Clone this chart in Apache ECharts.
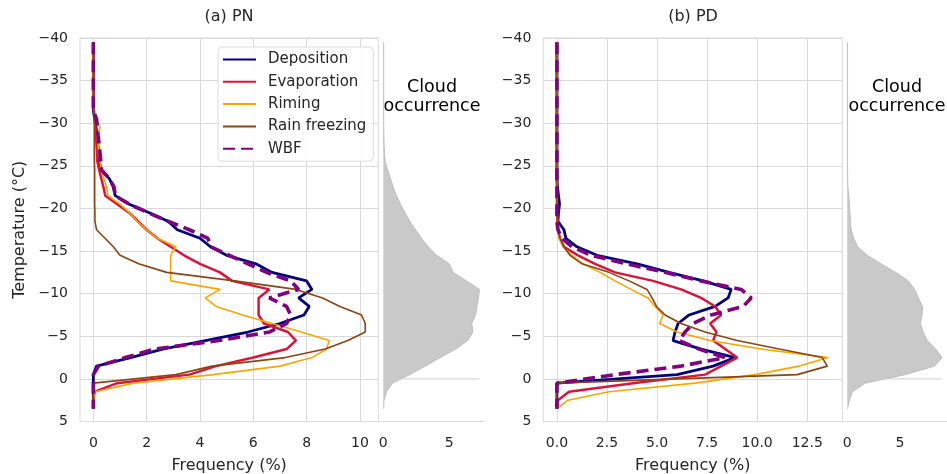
<!DOCTYPE html>
<html>
<head>
<meta charset="utf-8" />
<script src="https://cdn.jsdelivr.net/npm/echarts@6.0.0/dist/echarts.min.js"></script>
<style>
  html, body { margin: 0; padding: 0; background: #fff; }
  #chart { width: 947px; height: 474px; }
</style>
</head>
<body>
<div id="chart"></div>
<script>
// temperature bin centres (°C) shared by every profile
const temps = [-39.5, -38.5, -37.5, -36.5, -35.5, -34.5, -33.5, -32.5, -31.5, -30.5,
  -29.5, -28.5, -27.5, -26.5, -25.5, -24.5, -23.5, -22.5, -21.5, -20.5,
  -19.5, -18.5, -17.5, -16.5, -15.5, -14.5, -13.5, -12.5, -11.5, -10.5,
  -9.5, -8.5, -7.5, -6.5, -5.5, -4.5, -3.5, -2.5, -1.5, -0.5,
  0.5, 1.5, 2.5, 3.5];

// (a) PN, frequency in %
const pnDep = [0, 0, 0, 0, 0, 0, 0, 0, 0, 0.05,
  0.1, 0.15, 0.17, 0.2, 0.22, 0.3, 0.6, 0.75, 0.82, 1.35,
  2.1, 2.8, 3.15, 4.0, 4.4, 5.0, 6.1, 6.7, 8.0, 8.2,
  7.7, 8.1, 7.9, 7.0, 5.8, 4.2, 2.6, 1.4, 0.12, 0,
  0, 0, 0, 0];
const pnEvap = [0, 0, 0, 0, 0, 0, 0, 0, 0.02, 0.05,
  0.08, 0.1, 0.12, 0.14, 0.15, 0.22, 0.3, 0.38, 0.45, 0.9,
  1.34, 1.67, 2.0, 2.4, 2.9, 3.4, 4.0, 4.75, 5.2, 6.6,
  6.2, 6.2, 6.2, 6.4, 7.3, 7.6, 7.25, 6.0, 4.6, 3.6,
  0.9, 0.05, 0, 0];
const pnRime = [0, 0, 0, 0, 0, 0, 0, 0, 0.05, 0.1,
  0.25, 0.15, 0.18, 0.2, 0.25, 0.3, 0.4, 0.5, 0.55, 1.0,
  1.35, 1.65, 2.0, 2.4, 3.1, 2.9, 2.9, 2.9, 2.9, 4.75,
  4.2, 4.6, 5.6, 6.7, 7.8, 8.85, 8.75, 8.2, 7.0, 4.5,
  1.5, 0.06, 0, 0];
const pnRain = [0, 0, 0, 0, 0, 0, 0, 0, 0.03, 0.04,
  0.04, 0.04, 0.04, 0.04, 0.04, 0.05, 0.05, 0.05, 0.05, 0.05,
  0.06, 0.06, 0.12, 0.44, 0.75, 1.0, 1.7, 2.75, 5.3, 7.6,
  8.6, 9.25, 10.06, 10.2, 10.2, 9.55, 8.7, 7.2, 4.45, 3.1,
  0, 0, 0, 0];
const pnWbf = [0, 0, 0, 0, 0, 0, 0, 0, 0, 0.12,
  0.15, 0.18, 0.22, 0.25, 0.28, 0.31, 0.6, 0.78, 0.82, 1.35,
  2.05, 2.8, 3.6, 4.3, 4.4, 5.1, 5.8, 6.5, 7.4, 7.7,
  6.6, 7.25, 7.4, 7.25, 6.6, 4.7, 2.3, 1.2, 0.2, 0,
  0, 0, 0, 0];

// (b) PD, frequency in %
const pdDep = [0, 0, 0, 0, 0, 0, 0, 0, 0, 0,
  0, 0, 0, 0, 0, 0, 0, 0.03, 0.08, 0.13,
  0.08, 0.05, 0.35, 0.45, 1.0, 2.0, 4.0, 5.6, 7.3, 8.7,
  8.55, 7.9, 6.6, 6.05, 5.9, 5.8, 7.2, 8.9, 7.8, 6.0,
  0, 0, 0, 0];
const pdEvap = [0, 0, 0, 0, 0, 0, 0, 0, 0, 0,
  0, 0, 0, 0, 0, 0, 0, 0, 0, 0,
  0, 0.03, 0.06, 0.15, 0.35, 1.05, 1.9, 2.9, 4.8, 6.2,
  7.2, 7.9, 8.2, 7.65, 7.97, 7.8, 8.4, 9.0, 8.2, 7.4,
  3.8, 0.6, 0.05, 0];
const pdRime = [0, 0, 0, 0, 0, 0, 0, 0, 0, 0,
  0, 0, 0, 0, 0, 0, 0, 0, 0, 0,
  0, 0, 0.03, 0.1, 0.3, 0.75, 1.3, 2.15, 2.9, 3.7,
  4.55, 4.9, 5.3, 5.13, 6.0, 7.65, 10.2, 13.55, 12.1, 9.9,
  6.9, 2.6, 0.55, 0];
const pdRain = [0, 0, 0, 0, 0, 0, 0, 0, 0, 0,
  0, 0, 0, 0, 0, 0, 0, 0, 0, 0,
  0, 0, 0.05, 0.15, 0.35, 0.65, 1.25, 2.6, 3.6, 4.5,
  4.75, 4.97, 5.4, 6.2, 7.4, 9.0, 11.1, 13.25, 13.5, 12.0,
  0, 0, 0, 0];
const pdWbf = [0, 0, 0, 0, 0, 0, 0, 0, 0, 0,
  0, 0, 0, 0, 0, 0, 0, 0, 0, 0,
  0, 0, 0.05, 0.25, 0.75, 1.7, 3.5, 5.4, 7.2, 9.2,
  9.7, 9.3, 7.7, 6.8, 6.4, 6.1, 7.1, 8.4, 6.2, 2.9,
  0, 0, 0, 0];

// cloud occurrence profiles
const cloudPN = [0.03, 0.03, 0.03, 0.03, 0.03, 0.03, 0.03, 0.03, 0.03, 0.03,
  0.03, 0.04, 0.06, 0.08, 0.15, 0.33, 0.55, 0.75, 1.0, 1.3,
  1.65, 2.0, 2.45, 2.9, 3.4, 4.05, 5.0, 5.3, 6.3, 7.3,
  7.2, 7.1, 7.0, 6.7, 6.8, 6.4, 5.5, 4.3, 3.2, 2.0,
  0.7, 0.25, 0.05, 0.03];
const cloudPD = [0.03, 0.03, 0.03, 0.03, 0.03, 0.03, 0.03, 0.03, 0.03, 0.03,
  0.03, 0.03, 0.03, 0.03, 0.03, 0.03, 0.04, 0.06, 0.15, 0.2,
  0.25, 0.3, 0.38, 0.6, 1.0, 1.9, 3.2, 4.6, 5.8, 6.4,
  6.75, 7.15, 7.1, 6.95, 7.2, 7.6, 8.4, 9.0, 8.3, 5.5,
  1.7, 0.5, 0.2, 0.03];

const pnTicks = [0, 2, 4, 6, 8, 10];
const pdTicks = [0, 2.5, 5, 7.5, 10, 12.5];
const cloudTicks = [0, 5];

const names = ['Deposition', 'Evaporation', 'Riming', 'Rain freezing', 'WBF'];
const colors = ['#000080', '#dc143c', '#ffa500', '#8b4513', '#800080'];
const widths = [2.8, 2.5, 1.6, 1.6, 3.6];

const font = 'DejaVu Sans';
const ink = '#262626';
const lineGray = '#d9d9d9';
const fillGray = '#c9c9c9';

const chart = echarts.init(document.getElementById('chart'));

function profiles(data, xi, yi) {
  return names.map((n, k) => ({
    type: 'line',
    name: n,
    xAxisIndex: xi,
    yAxisIndex: yi,
    data: temps.map((t, i) => [data[k][i], t]),
    symbol: 'none',
    silent: true,
    z: 2 + k,
    lineStyle: { color: colors[k], width: widths[k], type: n === 'WBF' ? [12, 6] : 'solid' },
    itemStyle: { color: colors[k] }
  }));
}

function cloud(data, xi, yCat, yVal) {
  return [{
    type: 'line',
    xAxisIndex: xi,
    yAxisIndex: yCat,
    data: data,
    symbol: 'none',
    silent: true,
    lineStyle: { color: '#bfbfbf', width: 1 },
    areaStyle: { color: fillGray, opacity: 1 }
  }, {
    type: 'line',
    xAxisIndex: xi,
    yAxisIndex: yVal,
    data: [[0, 0], [Math.max(...data), 0]],
    symbol: 'none',
    silent: true,
    lineStyle: { color: '#cfcfcf', width: 1 }
  }];
}

const tickText = { color: ink, fontSize: 14, fontFamily: font };

function mainX(gi, min, max, ticks, fmt) {
  return {
    type: 'value', gridIndex: gi, min: min, max: max,
    axisLine: { show: false, onZero: false },
    axisTick: { show: false, customValues: ticks },
    axisLabel: Object.assign({ customValues: ticks, formatter: fmt, margin: 15 }, tickText),
    splitLine: { show: true, lineStyle: { color: lineGray, width: 1 } },
    name: 'Frequency (%)', nameLocation: 'middle', nameGap: 36,
    nameTextStyle: { color: ink, fontSize: 16, fontFamily: font }
  };
}

function cloudX(gi, min, max) {
  return {
    type: 'value', gridIndex: gi, min: min, max: max,
    axisLine: { show: true, onZero: false, lineStyle: { color: lineGray } },
    axisTick: { show: false, customValues: cloudTicks },
    axisLabel: Object.assign({ customValues: cloudTicks, margin: 15 }, tickText),
    splitLine: { show: false }
  };
}

function mainY(gi, withName) {
  const ax = {
    type: 'value', gridIndex: gi, min: -40, max: 5, interval: 5, inverse: true,
    axisLine: { show: false, onZero: false },
    axisTick: { show: false },
    axisLabel: Object.assign({ margin: 12, formatter: v => String(v).replace('-', '\u2212') }, tickText),
    splitLine: { show: true, lineStyle: { color: lineGray, width: 1 } }
  };
  if (withName) {
    ax.name = 'Temperature (°C)';
    ax.nameLocation = 'middle';
    ax.nameGap = 52;
    ax.nameTextStyle = { color: ink, fontSize: 16, fontFamily: font };
  }
  return ax;
}

function hiddenCatY(gi) {
  return { type: 'category', gridIndex: gi, data: temps.concat([4.5]), inverse: true, show: false, boundaryGap: true };
}
function hiddenValY(gi) {
  return { type: 'value', gridIndex: gi, min: -40, max: 5, inverse: true, show: false };
}

const gridTop = 38, gridH = 383.5;

const option = {
  animation: false,
  backgroundColor: '#fff',
  textStyle: { fontFamily: font },
  grid: [
    { left: 80, top: gridTop, width: 298.3, height: gridH, show: true, borderColor: lineGray, borderWidth: 1, outerBoundsMode: 'none', containLabel: false },
    { left: 378.3, top: gridTop, width: 106.2, height: gridH, outerBoundsMode: 'none', containLabel: false },
    { left: 543.3, top: gridTop, width: 299, height: gridH, show: true, borderColor: lineGray, borderWidth: 1, outerBoundsMode: 'none', containLabel: false },
    { left: 842.3, top: gridTop, width: 104.7, height: gridH, outerBoundsMode: 'none', containLabel: false }
  ],
  xAxis: [
    mainX(0, -0.5, 10.69, pnTicks, v => String(v)),
    cloudX(1, -0.38, 7.67),
    mainX(2, -0.68, 14.25, pdTicks, v => v.toFixed(1)),
    cloudX(3, -0.47, 9.47)
  ],
  yAxis: [
    mainY(0, true),
    hiddenCatY(1),
    hiddenValY(1),
    mainY(2, false),
    hiddenCatY(3),
    hiddenValY(3)
  ],
  legend: {
    data: names,
    orient: 'vertical',
    left: 218, top: 47,
    itemWidth: 33, itemHeight: 15, itemGap: 7.3,
    padding: [5, 7, 5, 4],
    backgroundColor: 'rgba(255,255,255,0.85)',
    borderColor: '#dcdcdc', borderWidth: 1, borderRadius: 4,
    selectedMode: false,
    itemStyle: { opacity: 0 },
    textStyle: { color: ink, fontSize: 15, fontFamily: font, padding: [0, 0, 0, 7] }
  },
  graphic: [
    { type: 'text', x: 229, y: 17, style: { text: '(a) PN', fill: ink, font: '16px "DejaVu Sans"', align: 'center', verticalAlign: 'middle' } },
    { type: 'text', x: 693, y: 17, style: { text: '(b) PD', fill: ink, font: '16px "DejaVu Sans"', align: 'center', verticalAlign: 'middle' } },
    { type: 'text', x: 432, y: 97, style: { text: 'Cloud\noccurrence', fill: '#000', font: '17.5px "DejaVu Sans"', lineHeight: 19, align: 'center', verticalAlign: 'middle' } },
    { type: 'text', x: 897, y: 97, style: { text: 'Cloud\noccurrence', fill: '#000', font: '17.5px "DejaVu Sans"', lineHeight: 19, align: 'center', verticalAlign: 'middle' } }
  ],
  series: [].concat(
    profiles([pnDep, pnEvap, pnRime, pnRain, pnWbf], 0, 0),
    cloud(cloudPN, 1, 1, 2),
    profiles([pdDep, pdEvap, pdRime, pdRain, pdWbf], 2, 3),
    cloud(cloudPD, 3, 4, 5)
  )
};

chart.setOption(option);
</script>
</body>
</html>
